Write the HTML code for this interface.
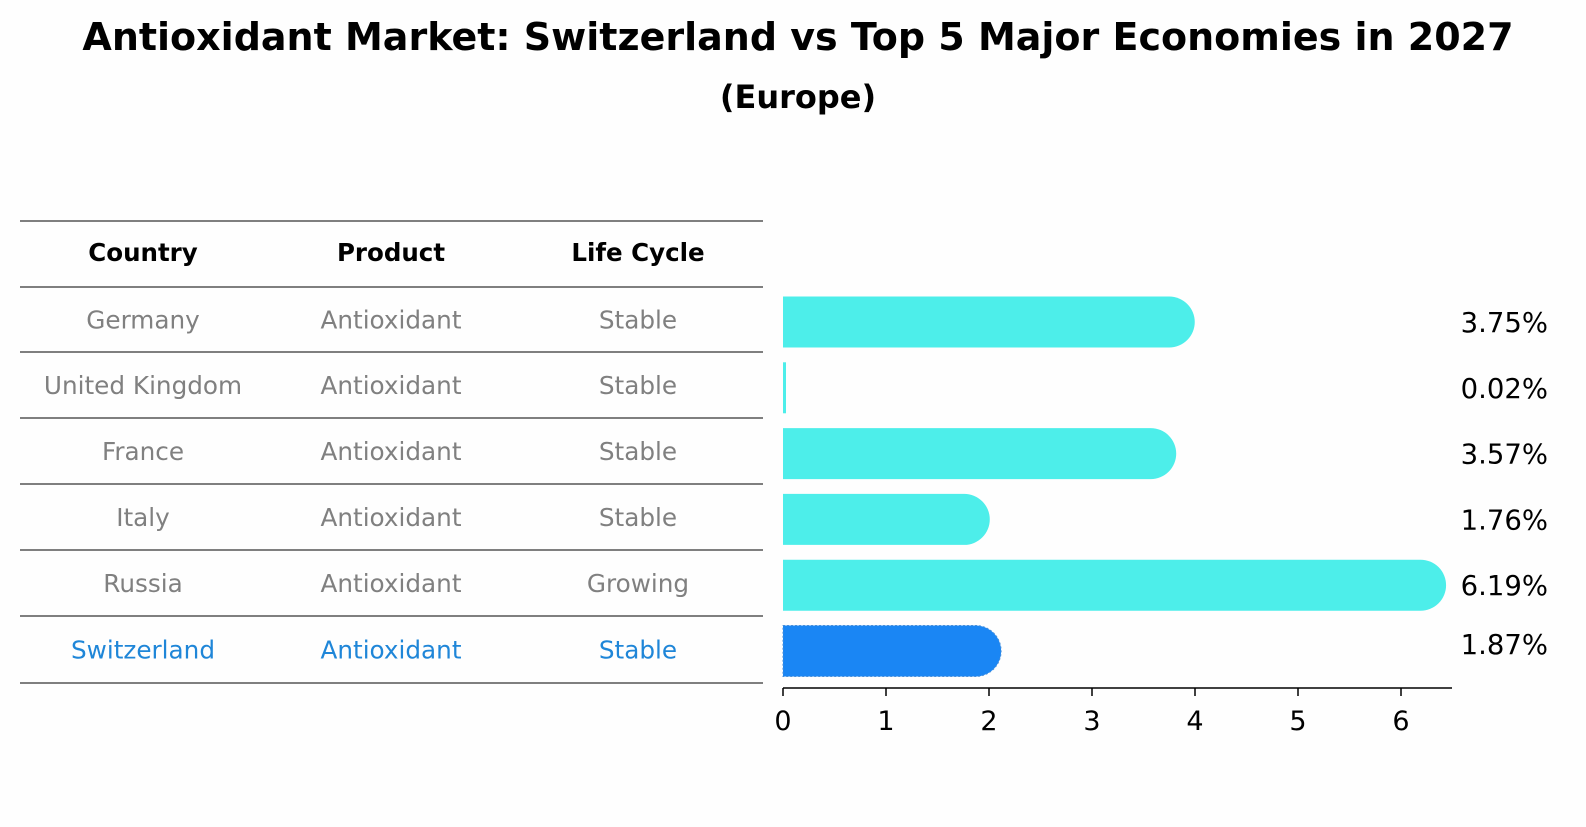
<!DOCTYPE html>
<html><head><meta charset="utf-8"><style>
body{margin:0;background:#fefefe;width:1586px;height:823px;overflow:hidden;font-family:"DejaVu Sans","Liberation Sans",sans-serif}
</style></head><body>
<svg width="1586" height="823">
<text x="798" y="50" text-anchor="middle" font-size="38" font-weight="bold">Antioxidant Market: Switzerland vs Top 5 Major Economies in 2027</text>
<text x="798" y="108" text-anchor="middle" font-size="32" font-weight="bold">(Europe)</text>
<g id="tbl"></g>
<g id="bars"></g>
</svg>
<script>
const countries=["Germany","United Kingdom","France","Italy","Russia","Switzerland"];
const products=["Antioxidant","Antioxidant","Antioxidant","Antioxidant","Antioxidant","Antioxidant"];
const lifeCycle=["Stable","Stable","Stable","Stable","Growing","Stable"];
const values=[3.75,0.02,3.57,1.76,6.19,1.87];
const ticks=[0,1,2,3,4,5,6];
const NS="http://www.w3.org/2000/svg";
function mk(t,a,p){const e=document.createElementNS(NS,t);for(const k in a)e.setAttribute(k,a[k]);p.appendChild(e);return e;}
const tbl=document.getElementById('tbl'),bars=document.getElementById('bars');
const lines=[221,287,352,418,484,550,616,683];
lines.forEach(y=>{const l=mk('line',{x1:20,x2:763,y1:y,y2:y,stroke:'#000','stroke-width':1},tbl);

});
const cx=[143,391,638];
["Country","Product","Life Cycle"].forEach((h,i)=>{const t=mk('text',{x:cx[i],y:261,'text-anchor':'middle','font-size':24.5,'font-weight':'bold'},tbl);t.textContent=h;

});
countries.forEach((c,r)=>{const y=(lines[r+1]+lines[r+2])/2+9;const col=c==="Switzerland"?'#1f86d8':'#808080';
[c,products[r],lifeCycle[r]].forEach((v,i)=>{const t=mk('text',{x:cx[i],y:y,'text-anchor':'middle','font-size':24.7,fill:col},tbl);t.textContent=v;

});});
const x0=783,ppu=103,xs=v=>x0+v*ppu;
const yc=r=>322+r*65.8,h=51;
values.forEach((v,r)=>{const sw=countries[r]==="Switzerland";const col=sw?'#1a86f4':'#4deeea';
const x1=xs(v),y=yc(r);let d;
if(v<0.2){d=`M${x0} ${y-h/2}h3v${h}h-3z`;}else{d=`M${x0} ${y-h/2}H${x1}A${h/2} ${h/2} 0 0 1 ${x1} ${y+h/2}H${x0}Z`;}
const p=mk('path',{d:d,fill:col},bars);if(sw){p.setAttribute('stroke','#4a8fd8');p.setAttribute('stroke-dasharray','2 2');}


const t=mk('text',{x:1548,y:r===5?y+3:y+10,'text-anchor':'end','font-size':27.5},bars);t.textContent=v.toFixed(2)+'%';

});
const ax=mk('line',{x1:x0,x2:1452,y1:688,y2:688,stroke:'#000','stroke-width':1.5},bars);


ticks.forEach(v=>{const tl=mk('line',{x1:xs(v),x2:xs(v),y1:688,y2:696,stroke:'#000','stroke-width':1.5},bars);


const t=mk('text',{x:xs(v),y:730,'text-anchor':'middle','font-size':27},bars);t.textContent=v;

});
</script>
</body></html>
